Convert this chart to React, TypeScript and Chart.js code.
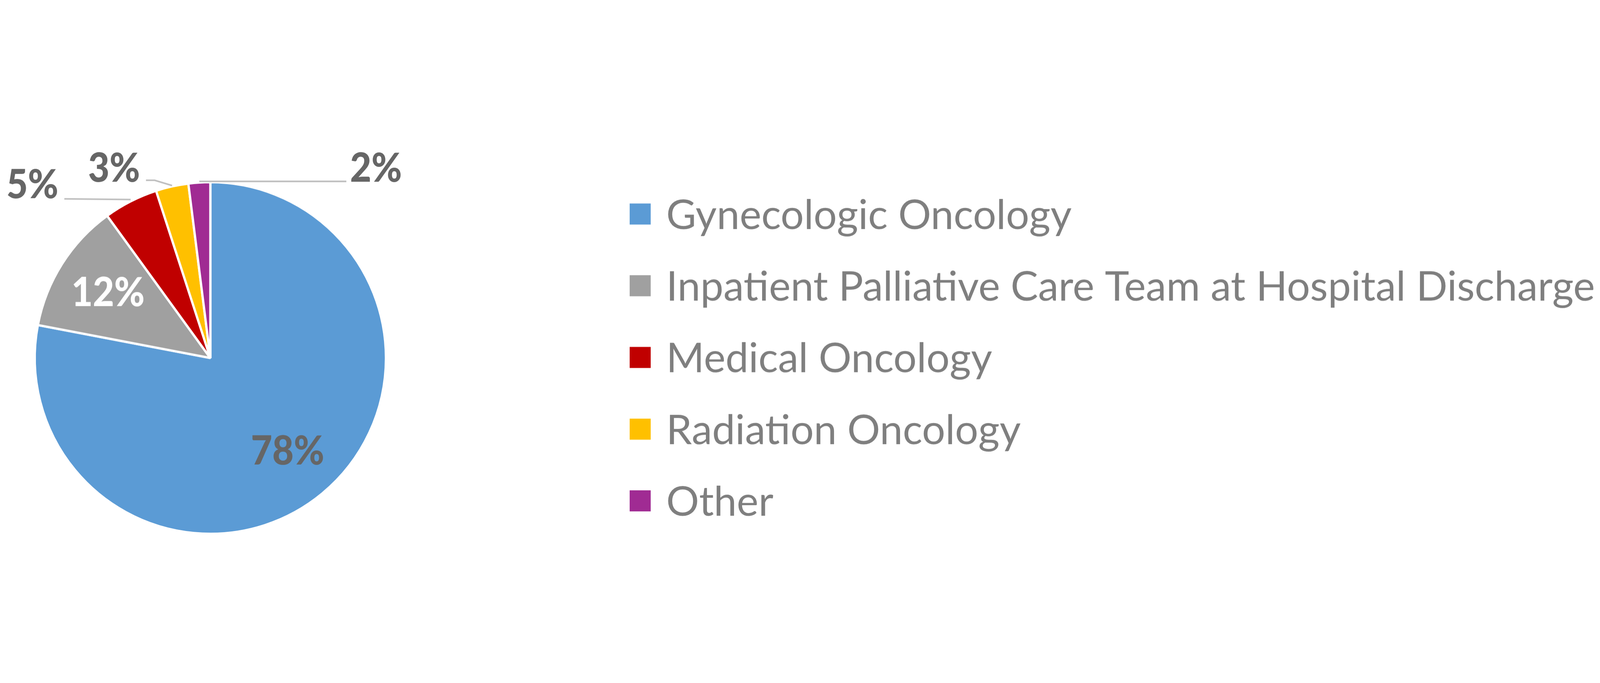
import { useEffect, useRef } from "react";
import { Chart, registerables, type Plugin } from "chart.js";

Chart.register(...registerables);

// data
const categories = [
  "Gynecologic Oncology",
  "Inpatient Palliative Care Team at Hospital Discharge",
  "Medical Oncology",
  "Radiation Oncology",
  "Other",
];
const shares = [78, 12, 5, 3, 2];
const sliceColors = ["#5B9BD5", "#A0A0A0", "#C00000", "#FFC000", "#A02B93"];

// layout is measured on the 6998 x 1748 reference and scaled to the real canvas
const REF_W = 6998;
const REF_H = 1748;
const FONT = 'Lato, "Open Sans", sans-serif';
const LABEL_COLOR = "#666666";
const LEGEND_COLOR = "#7F7F7F";
const LEADER_COLOR = "#BFBFBF";

// callouts for the thin slices, relative to the slice's outer mid point
type Callout = {
  line: [number, number][];
  text: [number, number];
  align: CanvasTextAlign;
};
const callouts: Record<number, Callout> = {
  2: { line: [[0, -8], [-290, -11]], text: [-316, -14], align: "right" },
  3: { line: [[0, -4], [-76, -27], [-114, -27]], text: [-140, -21], align: "right" },
  4: { line: [[0, -5], [643, -5]], text: [659, -3], align: "left" },
};

// draws text squeezed horizontally by sx, anchored like fillText
function squeezedText(
  ctx: CanvasRenderingContext2D,
  text: string,
  x: number,
  y: number,
  sx: number
) {
  ctx.save();
  ctx.translate(x, y);
  ctx.scale(sx, 1);
  ctx.fillText(text, 0, 0);
  ctx.restore();
}

const labelPlugin: Plugin<"pie"> = {
  id: "sliceLabels",
  afterDatasetsDraw(chart) {
    const { ctx } = chart;
    const s = chart.width / REF_W;
    const meta = chart.getDatasetMeta(0);
    ctx.save();
    ctx.font = `900 ${175 * s}px ${FONT}`;
    const sx = Math.min(1, (321 * s) / ctx.measureText("12%").width);
    meta.data.forEach((el, i) => {
      const arc = el as any;
      const { x, y, startAngle, endAngle, outerRadius } = arc.getProps(
        ["x", "y", "startAngle", "endAngle", "outerRadius"],
        true
      );
      const mid = (startAngle + endAngle) / 2;
      const text = `${shares[i]}%`;
      const c = callouts[i];
      if (!c) {
        const r = outerRadius * 0.69;
        ctx.fillStyle = i === 1 ? "#FFFFFF" : LABEL_COLOR;
        ctx.textAlign = "center";
        ctx.textBaseline = "middle";
        squeezedText(ctx, text, x + Math.cos(mid) * r, y + Math.sin(mid) * r, sx);
        return;
      }
      const ax = x + Math.cos(mid) * outerRadius;
      const ay = y + Math.sin(mid) * outerRadius;
      ctx.strokeStyle = LEADER_COLOR;
      ctx.lineWidth = 7 * s;
      ctx.beginPath();
      c.line.forEach(([dx, dy], k) => {
        if (k === 0) ctx.moveTo(ax + dx * s, ay + dy * s);
        else ctx.lineTo(ax + dx * s, ay + dy * s);
      });
      ctx.stroke();
      ctx.fillStyle = LABEL_COLOR;
      ctx.textAlign = c.align;
      ctx.textBaseline = "alphabetic";
      squeezedText(ctx, text, ax + c.text[0] * s, ay + c.text[1] * s, sx);
    });
    ctx.restore();
  },
};

const legendPlugin: Plugin<"pie"> = {
  id: "sideLegend",
  afterDraw(chart) {
    const { ctx } = chart;
    const s = chart.width / REF_W;
    const colors = chart.data.datasets[0].backgroundColor as string[];
    const labels = chart.data.labels as string[];
    const left = 2754 * s;
    const textX = 2914 * s;
    const top = 317 * s;
    const pitch = 313.25 * s;
    const box = 92 * s;
    ctx.save();
    ctx.font = `${180 * s}px ${FONT}`;
    const widest = Math.max(...labels.map((l) => ctx.measureText(l).width));
    const sx = Math.min(1, (4062 * s) / widest);
    const cap = ctx.measureText("H").actualBoundingBoxAscent;
    labels.forEach((label, i) => {
      const cy = top + i * pitch;
      ctx.fillStyle = colors[i];
      ctx.fillRect(left, cy - box / 2, box, box);
      ctx.fillStyle = LEGEND_COLOR;
      ctx.textAlign = "left";
      ctx.textBaseline = "alphabetic";
      squeezedText(ctx, label, textX, cy + cap / 2, sx);
    });
    ctx.restore();
  },
};

export default function App() {
  const canvasRef = useRef<HTMLCanvasElement | null>(null);

  useEffect(() => {
    const canvas = canvasRef.current;
    if (!canvas || !canvas.parentElement) return;
    const s = canvas.parentElement.clientWidth / REF_W;

    const chart = new Chart(canvas, {
      type: "pie",
      data: {
        labels: categories,
        datasets: [
          {
            data: shares,
            backgroundColor: sliceColors,
            borderColor: "#FFFFFF",
            borderWidth: 10 * s,
            hoverOffset: 0,
          },
        ],
      },
      options: {
        animation: false,
        responsive: true,
        maintainAspectRatio: false,
        layout: {
          padding: {
            top: 173 * s,
            bottom: 29 * s,
            left: 147 * s,
            right: 5305 * s,
          },
        },
        plugins: {
          legend: { display: false },
          tooltip: { enabled: false },
        },
      },
      plugins: [labelPlugin, legendPlugin],
    });

    return () => {
      chart.destroy();
    };
  }, []);

  return (
    <div
      style={{
        position: "fixed",
        inset: 0,
        background: "#FFFFFF",
        display: "flex",
        alignItems: "center",
      }}
    >
      <div
        style={{
          position: "relative",
          width: "100vw",
          height: `${(100 * REF_H) / REF_W}vw`,
        }}
      >
        <canvas ref={canvasRef} />
      </div>
    </div>
  );
}
